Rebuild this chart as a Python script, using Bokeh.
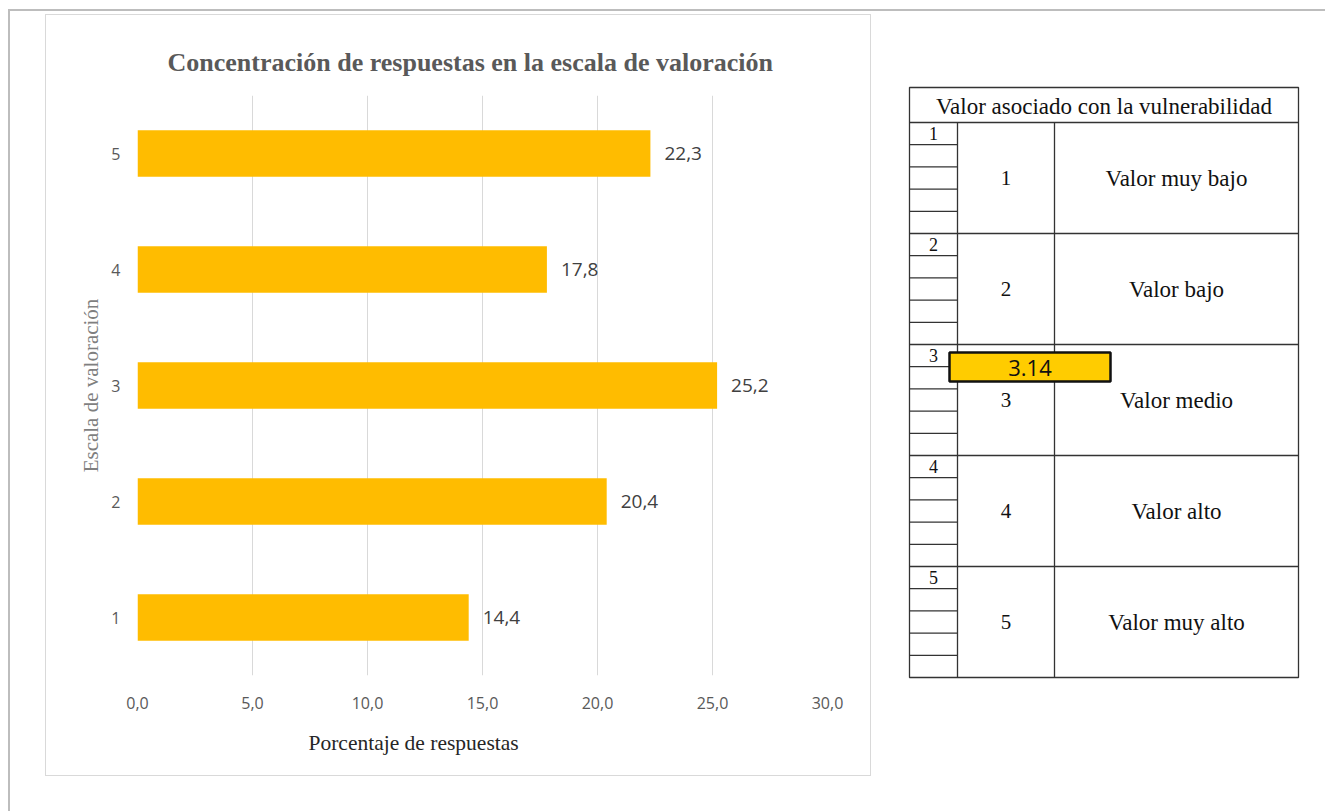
from bokeh.plotting import figure
from bokeh.models import Range1d, FixedTicker, Title, ColumnDataSource
from bokeh.layouts import row, column
from bokeh.embed import file_html
from bokeh.resources import INLINE
from bokeh.core.properties import value

# ---------------- data ----------------
escala = [1, 2, 3, 4, 5]
escala_labels = ["1", "2", "3", "4", "5"]
porcentajes = [14.4, 20.4, 25.2, 17.8, 22.3]
x_ticks = [0, 5, 10, 15, 20, 25, 30]
x_tick_labels = ["0,0", "5,0", "10,0", "15,0", "20,0", "25,0", "30,0"]
valor_labels = ["Valor muy bajo", "Valor bajo", "Valor medio", "Valor alto", "Valor muy alto"]
table_header = "Valor asociado con la vulnerabilidad"
media = 3.14
media_label = "3.14"

chart_title = "Concentración de respuestas en la escala de valoración"
x_title = "Porcentaje de respuestas"
y_title = "Escala de valoración"

BAR = "#FFBC00"
SERIF = "Liberation Serif"
SANS = "Open Sans"

ROW_H = 802
P_H = 760

# ---------------- bar chart ----------------
p = figure(width=824, height=P_H, output_backend="svg", toolbar_location=None,
           x_range=Range1d(0, 30), y_range=Range1d(0.5, 5.5),
           min_border_left=91, min_border_right=43, min_border_top=80, min_border_bottom=100,
           margin=(6, 0, 0, 38),
           styles={"box-shadow": "0 0 0 1px #d9d9d9"})
p.outline_line_color = None
p.background_fill_color = "white"
p.border_fill_color = "white"

p.title.text = chart_title
p.title.text_font = SERIF
p.title.text_font_style = "bold"
p.title.text_font_size = "26px"
p.title.text_color = "#595959"
p.title.align = "left"
p.title.offset = 30
p.title.standoff = 37

src = ColumnDataSource(dict(
    y=escala, v=porcentajes,
    lab=[f"{v:.1f}".replace(".", ",") for v in porcentajes]))
p.hbar(y="y", right="v", left=0, height=0.4, source=src, fill_color=BAR, line_color=None)
p.text(x="v", y="y", text="lab", source=src, x_offset=14, text_baseline="middle",
       text_align="left", text_font=value(SANS), text_font_size="19px", text_color="#404040")

xa = p.xaxis[0]
xa.ticker = FixedTicker(ticks=x_ticks)
xa.major_label_overrides = {t: l for t, l in zip(x_ticks, x_tick_labels)}
xa.axis_line_color = None
xa.major_tick_line_color = None
xa.minor_tick_line_color = None
xa.major_tick_out = 0
xa.major_tick_in = 0
xa.major_label_standoff = 21
xa.major_label_text_font = SANS
xa.major_label_text_font_size = "16px"
xa.major_label_text_color = "#595959"

ya = p.yaxis[0]
ya.ticker = FixedTicker(ticks=escala)
ya.major_label_overrides = {t: l for t, l in zip(escala, escala_labels)}
ya.axis_line_color = None
ya.major_tick_line_color = None
ya.minor_tick_line_color = None
ya.major_label_standoff = 11
ya.major_label_text_font = SANS
ya.major_label_text_font_size = "16px"
ya.major_label_text_color = "#595959"
ya.axis_label = y_title
ya.axis_label_text_font = SERIF
ya.axis_label_text_font_style = "normal"
ya.axis_label_text_font_size = "21px"
ya.axis_label_text_color = "#7f7f7f"
ya.axis_label_standoff = 5

p.xgrid.grid_line_color = "#d9d9d9"
p.ygrid.visible = False

# x-axis title, off-centre as in the original
p.add_layout(Title(text=x_title, align="left", offset=171, text_font=SERIF,
                   text_font_style="normal", text_font_size="21.5px",
                   text_color="#262626", standoff=34), "below")

# ---------------- table ----------------
W, HEAD, GH = 389, 35, 111
C1, C2 = 48, 145
NSUB = 5
n = len(escala)
H = HEAD + GH * n

T_TOP = 75
t = figure(width=395, height=ROW_H, output_backend="svg", toolbar_location=None,
           x_range=Range1d(-3, W + 3), y_range=Range1d(H + 3, -3),
           min_border_left=0, min_border_right=0,
           min_border_top=T_TOP, min_border_bottom=ROW_H - T_TOP - (H + 6))
t.axis.visible = False
t.grid.visible = False
t.outline_line_color = None
t.border_fill_color = None
t.background_fill_color = None

LC, LW = "#333333", 1.3
# outer frame
t.quad(left=[0], right=[W], top=[0], bottom=[H], fill_color="white", line_color=LC, line_width=LW)
# header and group separators
gy = [HEAD + GH * i for i in range(n)]
t.segment(x0=[0] * n, x1=[W] * n, y0=gy, y1=gy, line_color=LC, line_width=LW)
# column separators
t.segment(x0=[C1, C2], x1=[C1, C2], y0=[HEAD, HEAD], y1=[H, H], line_color=LC, line_width=LW)
# sub rows in the narrow column
sy = [HEAD + GH * i + GH / NSUB * j for i in range(n) for j in range(1, NSUB)]
t.segment(x0=[0] * len(sy), x1=[C1] * len(sy), y0=sy, y1=sy, line_color=LC, line_width=LW)

t.text(x=[W / 2], y=[HEAD / 2 + 1], text=[table_header], text_align="center",
       text_baseline="middle", text_font=value(SERIF), text_font_size="23px", text_color="#111111")
t.text(x=[C1 / 2] * n, y=[HEAD + GH * i + GH / NSUB / 2 for i in range(n)], text=escala_labels,
       text_align="center", text_baseline="middle", text_font=value(SERIF),
       text_font_size="18px", text_color="#111111")
t.text(x=[(C1 + C2) / 2] * n, y=[HEAD + GH * i + GH / 2 for i in range(n)], text=escala_labels,
       text_align="center", text_baseline="middle", text_font=value(SERIF),
       text_font_size="21px", text_color="#111111")
t.text(x=[(C2 + W) / 2] * n, y=[HEAD + GH * i + GH / 2 for i in range(n)], text=valor_labels,
       text_align="center", text_baseline="middle", text_font=value(SERIF),
       text_font_size="23px", text_color="#111111")

# highlighted mean value
g = int(media) - 1
btop = HEAD + GH * g + 8
t.quad(left=[40], right=[201], top=[btop], bottom=[btop + 29], fill_color="#FFCC00",
       line_color="#111111", line_width=2.5)
t.text(x=[120.5], y=[btop + 15], text=[media_label], text_align="center", text_baseline="middle",
       text_font=value(SANS), text_font_size="22px", text_color="#111111")

tcol = column(t, margin=(0, 24, 0, 36))
layout = row(p, tcol, margin=(9, 0, 0, 8),
             styles={"box-shadow": "inset 2px 2px 0 0 #bdbdbd", "background": "white"})

open("out.html", "w").write(file_html(layout, INLINE))
